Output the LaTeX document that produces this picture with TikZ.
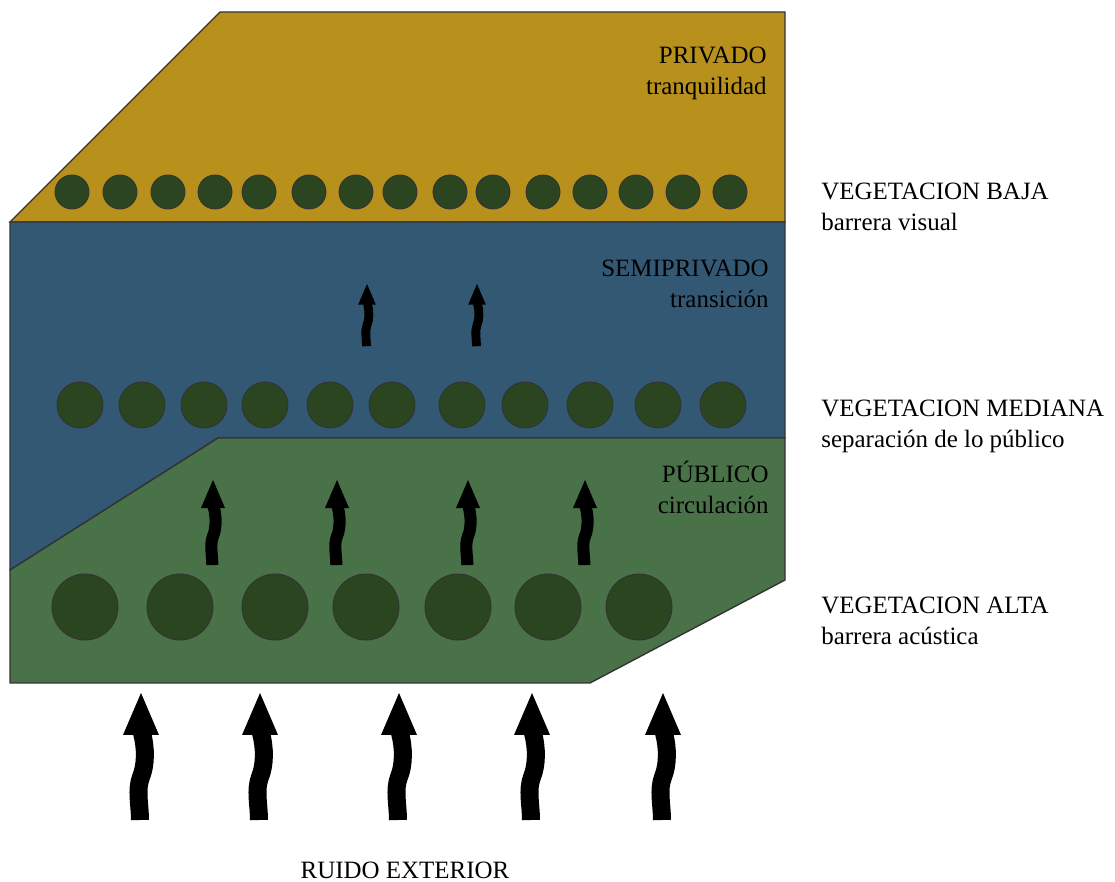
\documentclass[tikz,border=0pt]{standalone}
\usepackage{fontspec}
\setmainfont{Liberation Serif}

\definecolor{privgold}{HTML}{B8911C}
\definecolor{semiblue}{HTML}{335874}
\definecolor{pubgreen}{HTML}{4A7249}
\definecolor{treegreen}{HTML}{2A4520}

% wavy noise arrow: tip x, tip y, scale
\newcommand{\noisearrow}[3]{%
  \begin{scope}[shift={(#1,#2)}, scale=#3]
    \fill (0,0) -- (-18,42) -- (18,42) -- cycle;
    \draw[line width=#3*3.6mm] (1,40) .. controls (5,55) and (5,72) .. (0,84)
      .. controls (-5,97) and (-1,112) .. (-1,127);
  \end{scope}}

\begin{document}
\begin{tikzpicture}[x=0.2mm, y=-0.2mm, font=\fontsize{14.2}{17.6}\selectfont]

\tikzset{
  zone/.style={draw=black!80, line width=0.8pt},
  tree/.style={draw=black!80, fill=treegreen, line width=0.5pt},
  zonelabel/.style={anchor=north east, align=right, inner sep=0pt},
  veglabel/.style={anchor=north west, align=left, inner sep=0pt}
}

\useasboundingbox (0,0) rectangle (1115,882);

% Privado
\filldraw[zone, fill=privgold] (10,222) -- (220,12) -- (785,12) -- (785,222) -- cycle;
\node[zonelabel] (privado) at (767,47) {PRIVADO\\tranquilidad};

% Semiprivado
\filldraw[zone, fill=semiblue] (10,222) -- (785,222) -- (785,438) -- (218,438) -- (10,570) -- cycle;
\node[zonelabel] (semipriv) at (769,260) {SEMIPRIVADO\\transición};

% Publico
\filldraw[zone, fill=pubgreen] (10,570) -- (218,438) -- (785,438) -- (785,580) -- (590,683) -- (10,683) -- cycle;
\node[zonelabel] (publico) at (769,461) {PÚBLICO\\circulación};

% Vegetacion baja
\foreach \x in {72,120,168,215,259,309,356,400,450,493,543,590,636,683,730}
  \draw[tree] (\x,192) circle [radius=17];
\node[veglabel] (vegbaja) at (821,183) {VEGETACION BAJA\\barrera visual};

% Vegetacion mediana
\foreach \x in {80,142,204,265,330,392,462,525,590,658,723}
  \draw[tree] (\x,405) circle [radius=23];
\node[veglabel] (vegmed) at (821,400) {VEGETACION MEDIANA\\separación de lo público};

% Vegetacion alta
\foreach \x in {85,180,275,366,458,548,639}
  \draw[tree] (\x,607) circle [radius=33];
\node[veglabel] (vegalta) at (821,597) {VEGETACION ALTA\\barrera acústica};

% Ruido
\foreach \x in {141,260,399,532,663}
  \noisearrow{\x}{693}{1};
\foreach \x in {213,337,468,585}
  \noisearrow{\x}{480}{0.67};
\foreach \x in {367,477}
  \noisearrow{\x}{284}{0.49};
\node[anchor=north, inner sep=0pt] (ruido) at (405,862) {RUIDO EXTERIOR};

\end{tikzpicture}
\end{document}
